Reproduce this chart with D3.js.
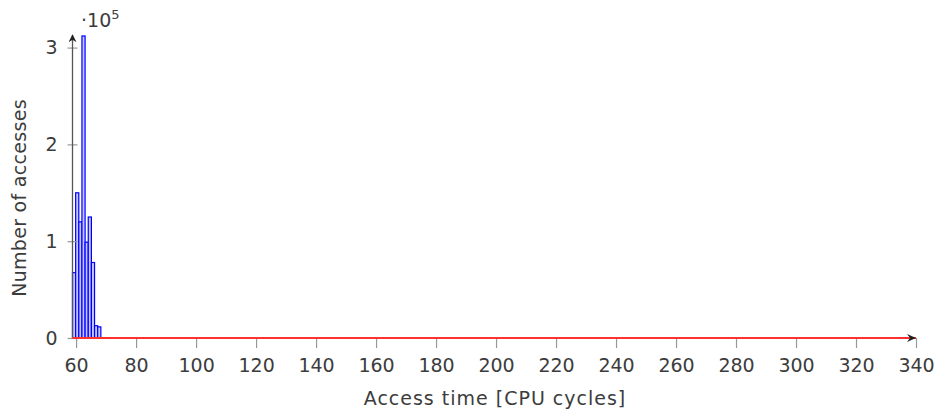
<!DOCTYPE html>
<html>
<head>
<meta charset="utf-8">
<script src="https://cdn.jsdelivr.net/npm/d3@7"></script>
<style>
  body { margin: 0; background: #fff; }
  text { font-family: "DejaVu Sans", sans-serif; fill: #3c3c3c; }
</style>
</head>
<body>
<svg id="chart" width="940" height="411"></svg>
<script>
// histogram bins (left edges, last entry closes the last bin), counts in units of 1e5
const binEdges = [58.8, 59.85, 60.9, 61.95, 63.0, 64.05, 65.1, 66.15, 67.2, 68.25];
const counts = [0.675, 1.5, 1.2, 3.12, 0.99, 1.25, 0.78, 0.127, 0.115];
// second (red) series: zero everywhere over the measured range
const redX = [58.8, 340];
const redY = [0, 0];
const xTicks = [60, 80, 100, 120, 140, 160, 180, 200, 220, 240, 260, 280, 300, 320, 340];
const yTicks = [0, 1, 2, 3];

const svg = d3.select("#chart");
const x = d3.scaleLinear().domain([58.8, 340]).range([72.5, 916]);
const y = d3.scaleLinear().domain([0, 3.13]).range([338, 35]);

const bins = counts.map((c, i) => ({ x0: binEdges[i], x1: binEdges[i + 1], v: c }));

// bars
svg.append("g")
  .selectAll("rect")
  .data(bins)
  .enter()
  .append("rect")
  .attr("x", d => x(d.x0))
  .attr("y", d => y(d.v))
  .attr("width", d => x(d.x1) - x(d.x0))
  .attr("height", d => y(0) - y(d.v))
  .attr("fill", "#c4c4ff")
  .attr("stroke", "#0000ff")
  .attr("stroke-width", 1.2);

// x ticks (below axis)
const xAxis = d3.axisBottom(x).tickValues(xTicks).tickSize(10).tickPadding(6).tickFormat(d3.format("d"));
const gx = svg.append("g").attr("transform", `translate(0,${y(0)})`).call(xAxis);
gx.select(".domain").remove();
gx.selectAll(".tick line").attr("stroke", "#999").attr("stroke-width", 1.2);
gx.selectAll(".tick text").attr("font-size", 19).attr("dy", "0.95em").style("fill", "#3c3c3c");

// y ticks (centred on axis)
const yAxis = d3.axisLeft(y).tickValues(yTicks).tickSize(0).tickPadding(15).tickFormat(d3.format("d"));
const gy = svg.append("g").attr("transform", `translate(${x(58.8)},0)`).call(yAxis);
gy.select(".domain").remove();
gy.selectAll(".tick text").attr("font-size", 19).style("fill", "#3c3c3c");
gy.selectAll(".tick").append("line")
  .attr("x1", -5).attr("x2", 5)
  .attr("stroke", "#999").attr("stroke-width", 1.2);

// axis lines with arrows
const defs = svg.append("defs");
defs.append("marker")
  .attr("id", "arrow")
  .attr("viewBox", "0 0 10 10")
  .attr("refX", 9).attr("refY", 5)
  .attr("markerWidth", 8).attr("markerHeight", 8)
  .attr("markerUnits", "userSpaceOnUse")
  .attr("orient", "auto")
  .append("path")
  .attr("d", "M0,0 L10,5 L0,10 L3,5 Z")
  .attr("fill", "#222");

svg.append("line")
  .attr("x1", x(58.8)).attr("x2", x(58.8))
  .attr("y1", y(0)).attr("y2", 35)
  .attr("stroke", "#555").attr("stroke-width", 1.3)
  .attr("marker-end", "url(#arrow)");

// red zero series
const line = d3.line().x((d, i) => x(redX[i])).y(d => y(d));
svg.append("path")
  .attr("d", line(redY))
  .attr("fill", "none")
  .attr("stroke", "#ff3030")
  .attr("stroke-width", 2);

// x axis arrow head
svg.append("path")
  .attr("d", `M${x(340) - 9},${y(0) - 4} L${x(340)},${y(0)} L${x(340) - 9},${y(0) + 4} L${x(340) - 6},${y(0)} Z`)
  .attr("fill", "#222");

// scale factor
const sf = svg.append("text").attr("x", 81).attr("y", 27).attr("font-size", 19);
sf.append("tspan").text("·10");
sf.append("tspan").attr("font-size", 13).attr("dy", -8).text("5");

// titles
svg.append("text")
  .attr("x", 495).attr("y", 405)
  .attr("text-anchor", "middle")
  .attr("font-size", 19)
  .attr("letter-spacing", 1)
  .text("Access time [CPU cycles]");

svg.append("text")
  .attr("transform", "translate(26,198) rotate(-90)")
  .attr("text-anchor", "middle")
  .attr("font-size", 19)
  .attr("letter-spacing", 0.3)
  .text("Number of accesses");
</script>
</body>
</html>
